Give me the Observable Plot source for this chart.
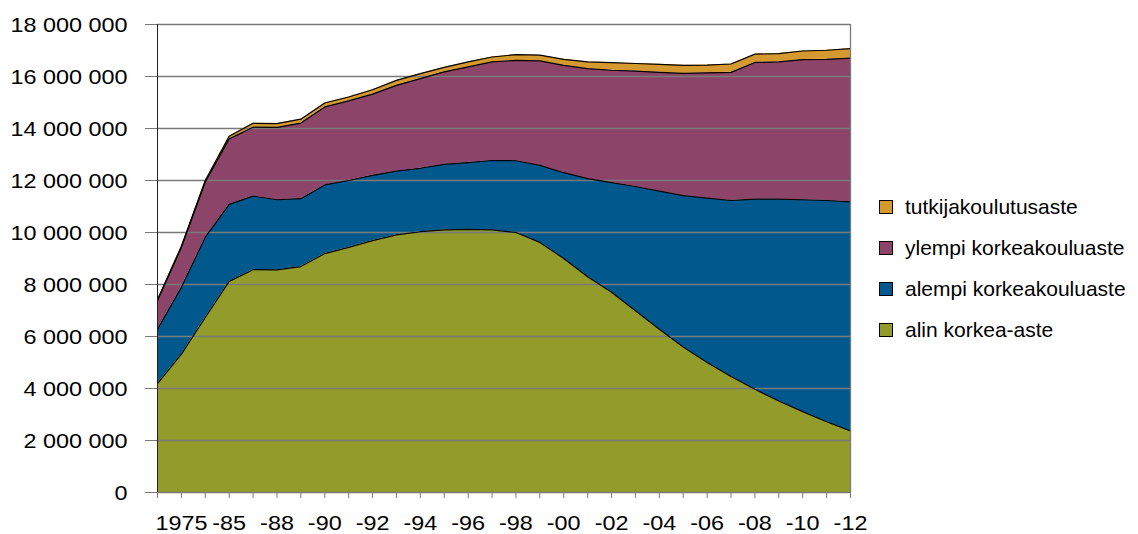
<!DOCTYPE html>
<html><head><meta charset="utf-8">
<script src="https://cdn.jsdelivr.net/npm/d3@7"></script>
<script src="https://cdn.jsdelivr.net/npm/@observablehq/plot@0.6"></script>
<style>
body{margin:0;background:#fff;}
#wrap{position:relative;width:1138px;height:534px;font-family:"Liberation Sans",Arial,Helvetica,sans-serif;}
.legend{position:absolute;left:879px;top:0;}
.item{position:absolute;left:0;height:24px;line-height:24px;display:flex;align-items:center;white-space:nowrap;font-size:21px;color:#000;}
.sw{width:12px;height:12px;border:1px solid #000;margin-right:12px;flex:none;}
</style></head><body><div id="wrap"></div>
<script>
// Categories (x positions) and displayed axis labels
const categories = ["1970","1975","1980","1985","1987","1988","1989","1990","1991","1992","1993","1994","1995","1996","1997","1998","1999","2000","2001","2002","2003","2004","2005","2006","2007","2008","2009","2010","2011","2012"];
const tickLabels = ["","1975","","-85","","-88","","-90","","-92","","-94","","-96","","-98","","-00","","-02","","-04","","-06","","-08","","-10","","-12"];
const yTicks = [0,2000000,4000000,6000000,8000000,10000000,12000000,14000000,16000000,18000000];

// Series (bottom to top)
const alin = [4190000,5320000,6730000,8120000,8570000,8560000,8690000,9190000,9430000,9690000,9910000,10030000,10100000,10120000,10100000,10000000,9620000,9000000,8300000,7700000,6990000,6280000,5600000,5000000,4460000,3970000,3520000,3110000,2720000,2370000];
const alempi = [2090000,2570000,3090000,2960000,2830000,2700000,2610000,2640000,2570000,2510000,2450000,2440000,2520000,2570000,2670000,2760000,2960000,3300000,3770000,4220000,4780000,5310000,5820000,6320000,6770000,7310000,7760000,8150000,8510000,8810000];
const ylempi = [1100000,1540000,2120000,2520000,2650000,2780000,2910000,3000000,3060000,3120000,3300000,3450000,3560000,3680000,3790000,3860000,4020000,4130000,4230000,4320000,4440000,4570000,4700000,4820000,4930000,5260000,5280000,5390000,5430000,5530000];
const tutkija = [30000,40000,60000,100000,150000,150000,150000,150000,150000,170000,190000,190000,170000,190000,190000,220000,220000,230000,260000,290000,290000,310000,310000,300000,320000,320000,320000,330000,350000,360000];

const seriesNames = ["alin korkea-aste","alempi korkeakouluaste","ylempi korkeakouluaste","tutkijakoulutusaste"];
const seriesValues = [alin, alempi, ylempi, tutkija];
const seriesColors = ["#939b2a","#00588c","#8c4468","#d49a30"];
const legendOrder = ["tutkijakoulutusaste","ylempi korkeakouluaste","alempi korkeakouluaste","alin korkea-aste"];

const long = [];
seriesNames.forEach((s, k) => {
  seriesValues[k].forEach((v, i) => long.push({i, series: s, value: v}));
});

const gray = "#7a7a7a";
const fmt = d => d3.format(",")(d).replace(/,/g, " ");

const chart = Plot.plot({
  width: 1138, height: 534,
  marginLeft: 157, marginRight: 288, marginTop: 24, marginBottom: 42,
  style: {fontFamily: '"Liberation Sans", Arial, Helvetica, sans-serif', fontSize: "19.5px", color: "#000", background: "white"},
  x: {domain: [0, categories.length - 1]},
  y: {domain: [0, 18000000]},
  color: {domain: seriesNames, range: seriesColors},
  marks: [
    Plot.areaY(long, {x: "i", y: "value", fill: "series", order: seriesNames}),
    Plot.gridY(yTicks, {stroke: gray, strokeOpacity: 1, strokeWidth: 1.3}),
    Plot.lineY(long, Plot.stackY2({x: "i", y: "value", z: "series", order: seriesNames, stroke: "#000", strokeWidth: 1.2})),
    Plot.ruleX([0], {stroke: "#222", strokeWidth: 1}),
    Plot.ruleX([categories.length - 1], {stroke: gray, strokeWidth: 1.3}),
    Plot.axisY({ticks: yTicks, tickSize: 12, tickPadding: 18, tickFormat: fmt, stroke: gray, fill: "#000", label: null}),
    Plot.axisX({ticks: d3.range(categories.length), tickSize: 6, tickPadding: 17.6, tickFormat: i => tickLabels[i], stroke: gray, fill: "#000", label: null})
  ]
});

const wrap = document.getElementById("wrap");
wrap.appendChild(chart);

// Horizontally widen axis label glyphs about their anchor point
function stretch(el, sx, dy, anchor) {
  const r = el.getBoundingClientRect();
  if (!r.width) return;
  const ax = anchor === "end" ? r.right : (r.left + r.right) / 2;
  const ay = (r.top + r.bottom) / 2;
  const parent = el.parentNode;
  const pt = chart.createSVGPoint();
  pt.x = ax; pt.y = ay;
  const p = pt.matrixTransform(parent.getScreenCTM().inverse());
  const g = document.createElementNS("http://www.w3.org/2000/svg", "g");
  g.setAttribute("transform", `translate(${p.x},${p.y + dy}) scale(${sx},1) translate(${-p.x},${-p.y})`);
  parent.insertBefore(g, el);
  g.appendChild(el);
}
Array.from(chart.querySelectorAll('g[aria-label="y-axis tick label"] text')).forEach(el => stretch(el, 1.2, 1.5, "end"));
Array.from(chart.querySelectorAll('g[aria-label="x-axis tick label"] text')).forEach(el => stretch(el, 1.2, 0, "middle"));

const legend = document.createElement("div");
legend.className = "legend";
const centers = [206.7, 248.3, 289.3, 330];
legendOrder.forEach((name, k) => {
  const item = document.createElement("div");
  item.className = "item";
  item.style.top = (centers[k] - 12) + "px";
  const sw = document.createElement("div");
  sw.className = "sw";
  sw.style.background = seriesColors[seriesNames.indexOf(name)];
  const tx = document.createElement("span");
  tx.textContent = name;
  item.appendChild(sw); item.appendChild(tx);
  legend.appendChild(item);
});
wrap.appendChild(legend);
</script></body></html>
